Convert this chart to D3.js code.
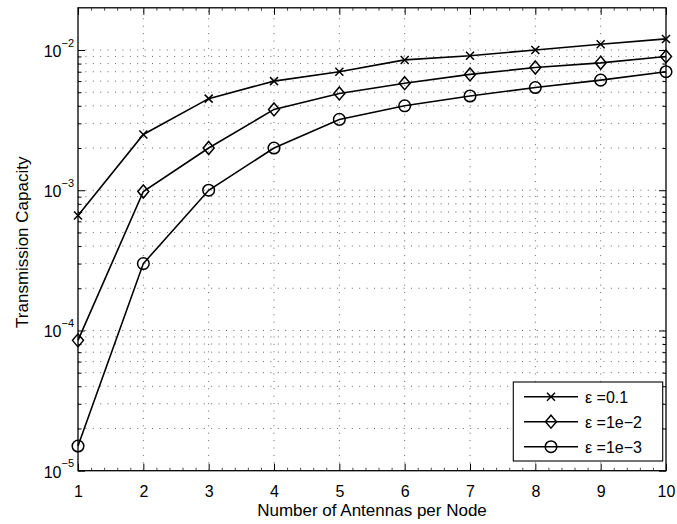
<!DOCTYPE html>
<html><head><meta charset="utf-8">
<script src="https://cdn.jsdelivr.net/npm/d3@7"></script>
<style>
body{margin:0;background:#fff;}
svg{display:block;font-family:"Liberation Sans",Arial,sans-serif;}
</style></head>
<body>
<svg id="c" width="677" height="524"></svg>
<script>
const antennas = [1,2,3,4,5,6,7,8,9,10];
const eps01  = [6.6e-4, 2.5e-3, 4.5e-3, 6.0e-3, 7.0e-3, 8.5e-3, 9.1e-3, 1.0e-2, 1.1e-2, 1.2e-2];
const eps1e2 = [8.5e-5, 9.8e-4, 2.0e-3, 3.77e-3, 4.9e-3, 5.8e-3, 6.7e-3, 7.5e-3, 8.1e-3, 9.0e-3];
const eps1e3 = [1.5e-5, 3.0e-4, 1.0e-3, 2.0e-3, 3.2e-3, 4.0e-3, 4.7e-3, 5.4e-3, 6.1e-3, 7.0e-3];
const seriesNames = ["\u03B5 =0.1", "\u03B5 =1e\u22122", "\u03B5 =1e\u22123"];
const markers = ["x","diamond","circle"];
const yMajor = [1e-5, 1e-4, 1e-3, 1e-2];
const yExp = ["\u22125","\u22124","\u22123","\u22122"];
const xLabel = "Number of Antennas per Node";
const yLabel = "Transmission Capacity";

const L=78, R=666, T=7.8, B=470.7;
const svg = d3.select("#c");
const x = d3.scaleLinear().domain([1,10]).range([L,R]);
const y = d3.scaleLog().domain([1e-5,2e-2]).range([B,T]);

// minor log values
const yMinor = [];
for (let e=-5;e<=-2;e++) for (let m=2;m<=9;m++){ const v=m*Math.pow(10,e); if(v<2e-2) yMinor.push(v); }
const yAll = yMajor.concat(yMinor);
const xMinor = d3.range(1,10.001,0.2).filter(v=>Math.abs(v-Math.round(v))>1e-6);

// grid
const grid = svg.append("g").attr("stroke","#000").attr("stroke-width",0.8).attr("stroke-dasharray","1,6.4").attr("opacity",0.75);
yAll.filter(v=>v>1e-5).forEach(v=>{
  grid.append("line").attr("x1",L).attr("x2",R).attr("y1",y(v)).attr("y2",y(v));
});
antennas.filter(v=>v>1&&v<10).forEach(v=>{
  grid.append("line").attr("x1",x(v)).attr("x2",x(v)).attr("y1",B).attr("y2",T);
});

// axes (inward ticks)
function styleAxis(g){ g.selectAll("path").remove(); g.selectAll("line").attr("stroke","#000").attr("stroke-width",1); }
svg.append("g").attr("transform",`translate(0,${B})`)
  .call(d3.axisBottom(x).tickValues(antennas).tickSize(-7).tickFormat(d3.format("d")).tickPadding(15))
  .call(g=>{styleAxis(g); g.selectAll("text").attr("font-size",16).attr("fill","#000").attr("font-family","Liberation Sans, Arial, sans-serif");});
svg.append("g").attr("transform",`translate(0,${T})`)
  .call(d3.axisTop(x).tickValues(antennas).tickSize(-7).tickFormat(""))
  .call(styleAxis);
svg.append("g").attr("transform",`translate(0,${B})`)
  .call(d3.axisBottom(x).tickValues(xMinor).tickSize(-3).tickFormat(""))
  .call(g=>{styleAxis(g); g.selectAll("line").attr("stroke-width",0.7);});
svg.append("g").attr("transform",`translate(0,${T})`)
  .call(d3.axisTop(x).tickValues(xMinor).tickSize(-3).tickFormat(""))
  .call(g=>{styleAxis(g); g.selectAll("line").attr("stroke-width",0.7);});
svg.append("g").attr("transform",`translate(${L},0)`)
  .call(d3.axisLeft(y).tickValues(yMajor).tickSize(-7).tickFormat(""))
  .call(styleAxis);
svg.append("g").attr("transform",`translate(${R},0)`)
  .call(d3.axisRight(y).tickValues(yMajor).tickSize(-7).tickFormat(""))
  .call(styleAxis);
svg.append("g").attr("transform",`translate(${L},0)`)
  .call(d3.axisLeft(y).tickValues(yMinor).tickSize(-3.5).tickFormat(""))
  .call(styleAxis);
svg.append("g").attr("transform",`translate(${R},0)`)
  .call(d3.axisRight(y).tickValues(yMinor).tickSize(-3.5).tickFormat(""))
  .call(styleAxis);

// y tick labels with superscripts
yMajor.forEach((v,i)=>{
  const t = svg.append("text").attr("x",74).attr("y",y(v)+6.8).attr("text-anchor","end").attr("fill","#000");
  t.append("tspan").attr("font-size",16).text("10");
  t.append("tspan").attr("font-size",11).attr("dy",-10.2).text(yExp[i]);
});

// frame
svg.append("rect").attr("x",L).attr("y",T).attr("width",R-L).attr("height",B-T)
  .attr("fill","none").attr("stroke","#000").attr("stroke-width",1.3);

// series
const data = [eps01, eps1e2, eps1e3];
const line = d3.line().x((d,i)=>x(antennas[i])).y(d=>y(d));
function drawMarker(g, type, cx, cy){
  if(type==="x"){
    const s=4;
    g.append("path").attr("d",`M${cx-s},${cy-s}L${cx+s},${cy+s}M${cx-s},${cy+s}L${cx+s},${cy-s}`)
      .attr("stroke","#000").attr("stroke-width",1.5).attr("fill","none");
  } else if(type==="diamond"){
    const w=5.5, h=6.5;
    g.append("path").attr("d",`M${cx},${cy-h}L${cx+w},${cy}L${cx},${cy+h}L${cx-w},${cy}Z`)
      .attr("stroke","#000").attr("stroke-width",1.5).attr("fill","none");
  } else {
    g.append("circle").attr("cx",cx).attr("cy",cy).attr("r",5.8)
      .attr("stroke","#000").attr("stroke-width",1.5).attr("fill","none");
  }
}
data.forEach((s,k)=>{
  const g = svg.append("g");
  g.append("path").datum(s).attr("d",line).attr("fill","none").attr("stroke","#000").attr("stroke-width",1.6);
  s.forEach((v,i)=>drawMarker(g, markers[k], x(antennas[i]), y(v)));
});

// legend
const lg = svg.append("g");
lg.append("rect").attr("x",513.3).attr("y",382).attr("width",149.4).attr("height",79)
  .attr("fill","#fff").attr("stroke","#000").attr("stroke-width",1.1);
seriesNames.forEach((n,k)=>{
  const ly = 396.7 + k*25;
  lg.append("line").attr("x1",524).attr("x2",578).attr("y1",ly).attr("y2",ly).attr("stroke","#000").attr("stroke-width",1.6);
  drawMarker(lg, markers[k], 551, ly);
  lg.append("text").attr("x",585).attr("y",ly+5.8).attr("font-size",16).attr("fill","#000").text(n);
});

// axis labels
svg.append("text").attr("x",(L+R)/2).attr("y",516).attr("text-anchor","middle").attr("font-size",17).attr("fill","#000").text(xLabel);
svg.append("text").attr("transform",`translate(28,${(T+B)/2+3}) rotate(-90)`).attr("text-anchor","middle").attr("font-size",17).attr("fill","#000").text(yLabel);
</script>
</body></html>
